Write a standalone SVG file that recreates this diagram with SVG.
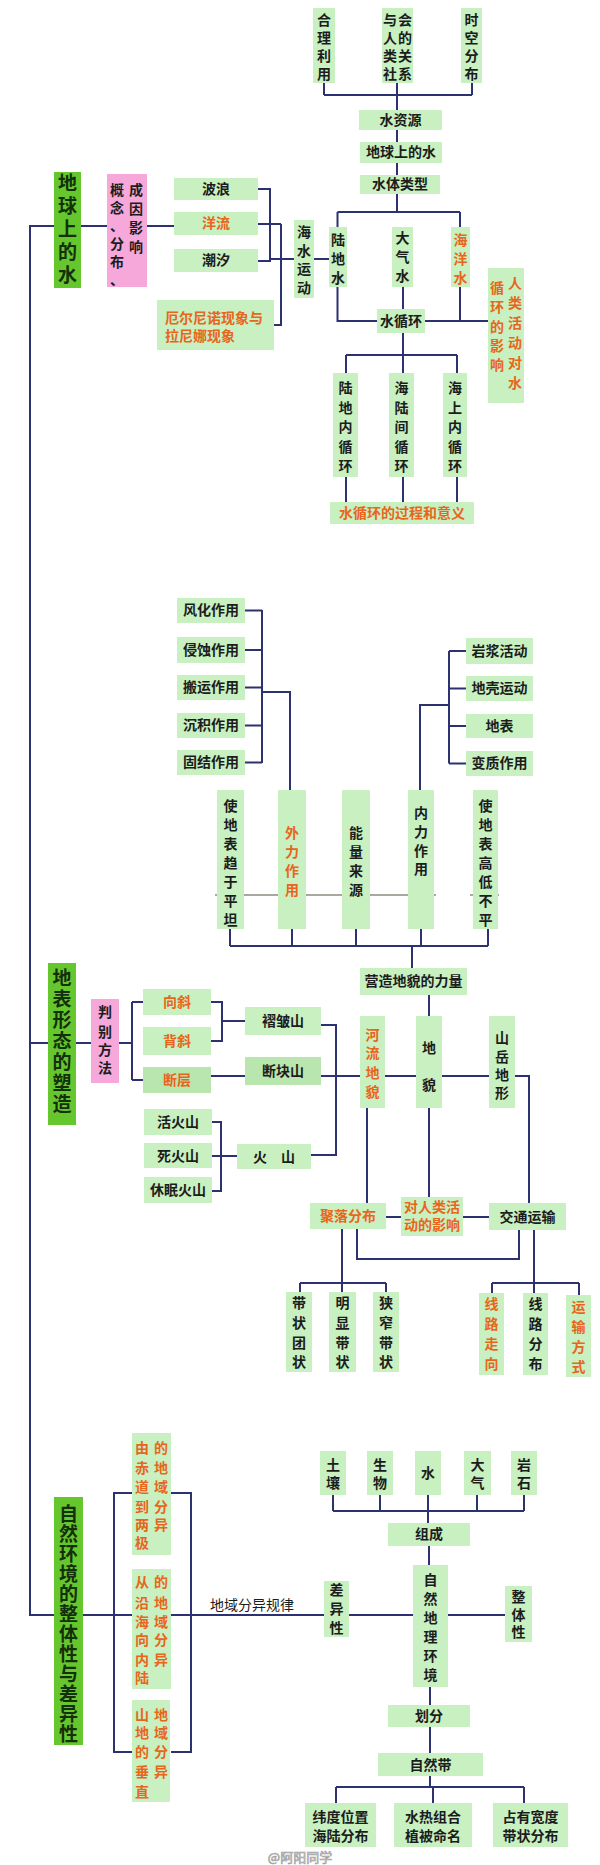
<svg xmlns="http://www.w3.org/2000/svg" width="600" height="1865" viewBox="0 0 600 1865">
<style>
.b{fill:#c8f0c0}
.d{fill:#b9e5ae}
.p{fill:#f5a8d9}
.g{fill:#66c62e}
.t{font-family:"Noto Sans CJK SC","Noto Sans",sans-serif;font-size:14px;font-weight:700;fill:#1c1c1c;text-anchor:middle}
.o{fill:#e8651c}
.T{font-size:19px;fill:#13300a;writing-mode:vertical-rl;text-anchor:middle}
.l{text-anchor:start}
.c{stroke:#2c3170;stroke-width:2;fill:none}
</style>
<rect width="600" height="1865" fill="#ffffff"/>
<g id="connectors" class="c">
<path d="M324 83V95M397 83V110M472 83V95M324 95H472M397 130V142M397 163V175M397 194V212M337.5 212H460M337.5 212V227M460 212V227"/>
<path d="M337.5 287V321H377M403 287V309M460 287V321M425 321H488M403 333V355M346 355H457M346 355V373M403 355V373M457 355V373M346 477V502M403 477V502M457 477V502"/>
<path d="M54 226H30V1615H54M81 226H107M147 226H174M258 189H270V261H258M258 224H281M274 325H281V224M270 259H294M314 259H329"/>
<path d="M245 610.5H262M245 650H262M245 687.5H262M245 725.5H262M245 762.5H262M262 610V763M262 692H290V790"/>
<path d="M466 651H449M466 688.5H449M466 726H449M466 763.5H449M449 651V763.5M449 705H420V790"/>
<path d="M230 929V946M292 929V946M356 929V946M421 929V946M488 929V946M230 946H488M412 946V968M429 995V1016"/>
<path d="M30 1043H48M76 1043H91M119 1043H132M132 1002V1080M132 1002H143M132 1080H143M211 1002H222V1041H211M222 1021H245M211 1076H245"/>
<path d="M321 1025H336V1155H311M321 1076H360M385 1076H416M442 1076H489M515 1076H529V1203M367 1108V1203M429 1108V1197M386 1217H401M463 1217H489"/>
<path d="M212 1122H221V1191H212M212 1156H237"/>
<path d="M357 1229V1259H519V1230M342 1229V1292M300 1283H386M300 1283V1292M386 1283V1292M534 1230V1293M492 1283H579M492 1283V1293M579 1283V1295"/>
<path d="M333 1495V1511M380 1495V1511M428 1495V1523M477 1495V1511M524 1495V1511M333 1511H524M429 1546V1565"/>
<path d="M83 1615H324M349 1615H413M448 1615H505M132 1493H114V1752H132M171 1493H191V1752H171"/>
<path d="M430 1687V1705M430 1727V1753M430 1776V1787M336 1787H524M336 1787V1803M433 1787V1803M524 1787V1803"/>
</g>
<path d="M215 895H436M470 895H499" stroke="#8c8c80" stroke-width="1.3" fill="none"/>
<g id="n-hlly"><rect class="b" x="313" y="8" width="22" height="75"/><text class="t"><tspan x="324" y="25">合</tspan><tspan x="324" y="43">理</tspan><tspan x="324" y="61">利</tspan><tspan x="324" y="79">用</tspan></text></g>
<g id="n-yrsh"><rect class="b" x="382" y="8" width="31" height="75"/><text class="t"><tspan x="390" y="25">与</tspan><tspan x="390" y="43">人</tspan><tspan x="390" y="61">类</tspan><tspan x="390" y="79">社</tspan><tspan x="405" y="25">会</tspan><tspan x="405" y="43">的</tspan><tspan x="405" y="61">关</tspan><tspan x="405" y="79">系</tspan></text></g>
<g id="n-skfb"><rect class="b" x="461" y="8" width="21" height="75"/><text class="t"><tspan x="471.5" y="25">时</tspan><tspan x="471.5" y="43">空</tspan><tspan x="471.5" y="61">分</tspan><tspan x="471.5" y="79">布</tspan></text></g>
<g id="n-szy"><rect class="b" x="359" y="110" width="83" height="20"/><text class="t" x="400.5" y="125">水资源</text></g>
<g id="n-dqsds"><rect class="b" x="360" y="142" width="82" height="21"/><text class="t" x="401" y="157">地球上的水</text></g>
<g id="n-stlx"><rect class="b" x="360" y="175" width="80" height="19"/><text class="t" x="400" y="189">水体类型</text></g>
<g id="n-ldsh"><rect class="b" x="329" y="227" width="18" height="60"/><text class="t"><tspan x="338" y="245">陆</tspan><tspan x="338" y="264">地</tspan><tspan x="338" y="283">水</tspan></text></g>
<g id="n-dqs"><rect class="b" x="392" y="227" width="21" height="60"/><text class="t"><tspan x="402.5" y="243">大</tspan><tspan x="402.5" y="262">气</tspan><tspan x="402.5" y="281">水</tspan></text></g>
<g id="n-hys"><rect class="b" x="451" y="227" width="19" height="60"/><text class="t o"><tspan x="460.5" y="245">海</tspan><tspan x="460.5" y="264">洋</tspan><tspan x="460.5" y="283">水</tspan></text></g>
<g id="n-sxh"><rect class="b" x="377" y="309" width="48" height="24"/><text class="t" x="401" y="326">水循环</text></g>
<g id="n-rlhd"><rect class="b" x="488" y="268" width="36" height="135"/><text class="t o"><tspan x="515" y="288">人</tspan><tspan x="515" y="308">类</tspan><tspan x="515" y="328">活</tspan><tspan x="515" y="348">动</tspan><tspan x="515" y="368">对</tspan><tspan x="515" y="388">水</tspan><tspan x="497" y="293">循</tspan><tspan x="497" y="312">环</tspan><tspan x="497" y="332">的</tspan><tspan x="497" y="351">影</tspan><tspan x="497" y="370">响</tspan></text></g>
<g id="n-ldnxh"><rect class="b" x="333" y="373" width="25" height="104"/><text class="t"><tspan x="345.5" y="393">陆</tspan><tspan x="345.5" y="413">地</tspan><tspan x="345.5" y="432">内</tspan><tspan x="345.5" y="452">循</tspan><tspan x="345.5" y="471">环</tspan></text></g>
<g id="n-hljxh"><rect class="b" x="389" y="373" width="25" height="104"/><text class="t"><tspan x="401.5" y="393">海</tspan><tspan x="401.5" y="413">陆</tspan><tspan x="401.5" y="432">间</tspan><tspan x="401.5" y="452">循</tspan><tspan x="401.5" y="471">环</tspan></text></g>
<g id="n-hsnxh"><rect class="b" x="443" y="373" width="24" height="104"/><text class="t"><tspan x="455" y="393">海</tspan><tspan x="455" y="413">上</tspan><tspan x="455" y="432">内</tspan><tspan x="455" y="452">循</tspan><tspan x="455" y="471">环</tspan></text></g>
<g id="n-sxhgc"><rect class="b" x="330" y="502" width="144" height="22"/><text class="t o" x="402" y="518">水循环的过程和意义</text></g>
<g id="n-bl"><rect class="b" x="174" y="178" width="84" height="22"/><text class="t" x="216" y="194">波浪</text></g>
<g id="n-yl"><rect class="b" x="174" y="212" width="84" height="23"/><text class="t o" x="216" y="228">洋流</text></g>
<g id="n-cx"><rect class="b" x="174" y="249" width="84" height="23"/><text class="t" x="216" y="265">潮汐</text></g>
<g id="n-hsyd"><rect class="b" x="294" y="220" width="20" height="78"/><text class="t"><tspan x="304" y="237">海</tspan><tspan x="304" y="256">水</tspan><tspan x="304" y="274">运</tspan><tspan x="304" y="293">动</tspan></text></g>
<g id="n-enso"><rect class="b" x="157" y="300" width="117" height="50"/><text class="t o l"><tspan x="165" y="323">厄尔尼诺现象与</tspan><tspan x="165" y="341">拉尼娜现象</tspan></text></g>
<g id="n-gn"><rect class="p" x="107" y="174" width="40" height="113"/><text class="t"><tspan x="136" y="195">成</tspan><tspan x="136" y="214">因</tspan><tspan x="136" y="233">影</tspan><tspan x="136" y="252">响</tspan><tspan x="117" y="195">概</tspan><tspan x="117" y="213">念</tspan><tspan x="117" y="231">、</tspan><tspan x="117" y="249">分</tspan><tspan x="117" y="267">布</tspan><tspan x="117" y="285">、</tspan></text></g>
<g id="n-title1"><rect class="g" x="54" y="172" width="27" height="116"/><text class="t T" x="67.5" y="231" style="letter-spacing:4px">地球上的水</text></g>
<g id="n-fh"><rect class="b" x="177" y="598" width="68" height="25"/><text class="t" x="211" y="615">风化作用</text></g>
<g id="n-qs"><rect class="b" x="177" y="637" width="68" height="26"/><text class="t" x="211" y="655">侵蚀作用</text></g>
<g id="n-by"><rect class="b" x="177" y="675" width="68" height="25"/><text class="t" x="211" y="692">搬运作用</text></g>
<g id="n-cj"><rect class="b" x="177" y="713" width="68" height="25"/><text class="t" x="211" y="730">沉积作用</text></g>
<g id="n-gj"><rect class="b" x="177" y="750" width="68" height="25"/><text class="t" x="211" y="767">固结作用</text></g>
<g id="n-yj"><rect class="b" x="466" y="638" width="67" height="26"/><text class="t" x="499.5" y="656">岩浆活动</text></g>
<g id="n-dk"><rect class="b" x="466" y="676" width="67" height="25"/><text class="t" x="499.5" y="693">地壳运动</text></g>
<g id="n-db"><rect class="b" x="466" y="714" width="67" height="24"/><text class="t" x="499.5" y="731">地表</text></g>
<g id="n-bz"><rect class="b" x="466" y="751" width="67" height="25"/><text class="t" x="499.5" y="768">变质作用</text></g>
<g id="n-pt"><rect class="b" x="217" y="790" width="27" height="139"/><text class="t"><tspan x="230.5" y="811">使</tspan><tspan x="230.5" y="830">地</tspan><tspan x="230.5" y="849">表</tspan><tspan x="230.5" y="868">趋</tspan><tspan x="230.5" y="887">于</tspan><tspan x="230.5" y="906">平</tspan><tspan x="230.5" y="925">坦</tspan></text></g>
<g id="n-wl"><rect class="b" x="278" y="790" width="28" height="139"/><text class="t o"><tspan x="292" y="838">外</tspan><tspan x="292" y="857">力</tspan><tspan x="292" y="876">作</tspan><tspan x="292" y="895">用</tspan></text></g>
<g id="n-nl"><rect class="b" x="342" y="790" width="28" height="139"/><text class="t"><tspan x="356" y="838">能</tspan><tspan x="356" y="857">量</tspan><tspan x="356" y="876">来</tspan><tspan x="356" y="895">源</tspan></text></g>
<g id="n-nlzy"><rect class="b" x="408" y="790" width="26" height="139"/><text class="t"><tspan x="421" y="818">内</tspan><tspan x="421" y="837">力</tspan><tspan x="421" y="856">作</tspan><tspan x="421" y="874">用</tspan></text></g>
<g id="n-gd"><rect class="b" x="473" y="790" width="25" height="139"/><text class="t"><tspan x="485.5" y="811">使</tspan><tspan x="485.5" y="830">地</tspan><tspan x="485.5" y="849">表</tspan><tspan x="485.5" y="868">高</tspan><tspan x="485.5" y="887">低</tspan><tspan x="485.5" y="906">不</tspan><tspan x="485.5" y="925">平</tspan></text></g>
<g id="n-yz"><rect class="b" x="360" y="968" width="107" height="27"/><text class="t" x="413.5" y="986">营造地貌的力量</text></g>
<g id="n-xx"><rect class="b" x="143" y="989" width="68" height="26"/><text class="t o" x="177" y="1007">向斜</text></g>
<g id="n-bx"><rect class="b" x="143" y="1027" width="68" height="28"/><text class="t o" x="177" y="1046">背斜</text></g>
<g id="n-dc"><rect class="d" x="143" y="1067" width="68" height="26"/><text class="t o" x="177" y="1085">断层</text></g>
<g id="n-zzs"><rect class="b" x="245" y="1007" width="76" height="28"/><text class="t" x="283" y="1026">褶皱山</text></g>
<g id="n-dks"><rect class="d" x="245" y="1057" width="76" height="28"/><text class="t" x="283" y="1076">断块山</text></g>
<g id="n-hl"><rect class="b" x="360" y="1016" width="25" height="92"/><text class="t o"><tspan x="372.5" y="1040">河</tspan><tspan x="372.5" y="1058">流</tspan><tspan x="372.5" y="1078">地</tspan><tspan x="372.5" y="1097">貌</tspan></text></g>
<g id="n-dm"><rect class="b" x="416" y="1016" width="26" height="92"/><text class="t"><tspan x="429" y="1053">地</tspan><tspan x="429" y="1090">貌</tspan></text></g>
<g id="n-sy"><rect class="b" x="489" y="1016" width="26" height="92"/><text class="t"><tspan x="502" y="1043">山</tspan><tspan x="502" y="1062">岳</tspan><tspan x="502" y="1080">地</tspan><tspan x="502" y="1098">形</tspan></text></g>
<g id="n-pb"><rect class="p" x="91" y="999" width="28" height="84"/><text class="t"><tspan x="105" y="1017">判</tspan><tspan x="105" y="1037">别</tspan><tspan x="105" y="1055">方</tspan><tspan x="105" y="1073">法</tspan></text></g>
<g id="n-title2"><rect class="g" x="48" y="963" width="28" height="162"/><text class="t T" x="62" y="1042" style="letter-spacing:2px">地表形态的塑造</text></g>
<g id="n-hhs"><rect class="b" x="144" y="1109" width="68" height="26"/><text class="t" x="178" y="1127">活火山</text></g>
<g id="n-shs"><rect class="b" x="144" y="1143" width="68" height="25"/><text class="t" x="178" y="1161">死火山</text></g>
<g id="n-xmhs"><rect class="b" x="144" y="1177" width="68" height="26"/><text class="t" x="178" y="1195">休眠火山</text></g>
<g id="n-hs"><rect class="b" x="237" y="1144" width="74" height="25"/><text class="t" x="274" y="1162">火　山</text></g>
<g id="n-jl"><rect class="b" x="310" y="1203" width="76" height="26"/><text class="t o" x="348" y="1221">聚落分布</text></g>
<g id="n-drl"><rect class="b" x="401" y="1197" width="62" height="39"/><text class="t o"><tspan x="432" y="1212">对人类活</tspan><tspan x="432" y="1230">动的影响</tspan></text></g>
<g id="n-jt"><rect class="b" x="489" y="1203" width="77" height="27"/><text class="t" x="527.5" y="1222">交通运输</text></g>
<g id="n-dztz"><rect class="b" x="286" y="1292" width="26" height="80"/><text class="t"><tspan x="299" y="1308">带</tspan><tspan x="299" y="1328">状</tspan><tspan x="299" y="1348">团</tspan><tspan x="299" y="1367">状</tspan></text></g>
<g id="n-mxdz"><rect class="b" x="329" y="1292" width="27" height="80"/><text class="t"><tspan x="342.5" y="1308">明</tspan><tspan x="342.5" y="1328">显</tspan><tspan x="342.5" y="1348">带</tspan><tspan x="342.5" y="1367">状</tspan></text></g>
<g id="n-xzdz"><rect class="b" x="373" y="1292" width="26" height="80"/><text class="t"><tspan x="386" y="1308">狭</tspan><tspan x="386" y="1328">窄</tspan><tspan x="386" y="1348">带</tspan><tspan x="386" y="1367">状</tspan></text></g>
<g id="n-xlzx"><rect class="b" x="479" y="1293" width="25" height="82"/><text class="t o"><tspan x="491.5" y="1309">线</tspan><tspan x="491.5" y="1329">路</tspan><tspan x="491.5" y="1349">走</tspan><tspan x="491.5" y="1369">向</tspan></text></g>
<g id="n-xlfb"><rect class="b" x="523" y="1293" width="25" height="82"/><text class="t"><tspan x="535.5" y="1309">线</tspan><tspan x="535.5" y="1329">路</tspan><tspan x="535.5" y="1349">分</tspan><tspan x="535.5" y="1369">布</tspan></text></g>
<g id="n-ysfs"><rect class="b" x="566" y="1295" width="25" height="82"/><text class="t o"><tspan x="578.5" y="1312">运</tspan><tspan x="578.5" y="1332">输</tspan><tspan x="578.5" y="1352">方</tspan><tspan x="578.5" y="1372">式</tspan></text></g>
<g id="n-tr"><rect class="b" x="320" y="1451" width="26" height="44"/><text class="t"><tspan x="333" y="1470">土</tspan><tspan x="333" y="1488">壤</tspan></text></g>
<g id="n-sw"><rect class="b" x="367" y="1451" width="26" height="44"/><text class="t"><tspan x="380" y="1470">生</tspan><tspan x="380" y="1488">物</tspan></text></g>
<g id="n-s"><rect class="b" x="415" y="1451" width="26" height="44"/><text class="t" x="428" y="1478">水</text></g>
<g id="n-dq"><rect class="b" x="464" y="1451" width="27" height="44"/><text class="t"><tspan x="477.5" y="1470">大</tspan><tspan x="477.5" y="1488">气</tspan></text></g>
<g id="n-ys"><rect class="b" x="511" y="1451" width="26" height="44"/><text class="t"><tspan x="524" y="1470">岩</tspan><tspan x="524" y="1488">石</tspan></text></g>
<g id="n-zc"><rect class="b" x="388" y="1523" width="82" height="23"/><text class="t" x="429" y="1539">组成</text></g>
<g id="n-zrdl"><rect class="b" x="413" y="1565" width="35" height="122"/><text class="t"><tspan x="430.5" y="1585">自</tspan><tspan x="430.5" y="1604">然</tspan><tspan x="430.5" y="1623">地</tspan><tspan x="430.5" y="1642">理</tspan><tspan x="430.5" y="1661">环</tspan><tspan x="430.5" y="1680">境</tspan></text></g>
<g id="n-cyx"><rect class="b" x="324" y="1581" width="25" height="56"/><text class="t"><tspan x="336.5" y="1595">差</tspan><tspan x="336.5" y="1614">异</tspan><tspan x="336.5" y="1633">性</tspan></text></g>
<g id="n-ztx"><rect class="b" x="505" y="1586" width="27" height="56"/><text class="t"><tspan x="518.5" y="1602">整</tspan><tspan x="518.5" y="1620">体</tspan><tspan x="518.5" y="1637">性</tspan></text></g>
<g id="n-hf"><rect class="b" x="388" y="1705" width="82" height="22"/><text class="t" x="429" y="1721">划分</text></g>
<g id="n-zrd"><rect class="b" x="378" y="1753" width="105" height="23"/><text class="t" x="430.5" y="1770">自然带</text></g>
<g id="n-wd"><rect class="b" x="305" y="1803" width="71" height="44"/><text class="t"><tspan x="340.5" y="1822">纬度位置</tspan><tspan x="340.5" y="1841">海陆分布</tspan></text></g>
<g id="n-sr"><rect class="b" x="394" y="1803" width="78" height="44"/><text class="t"><tspan x="433" y="1822">水热组合</tspan><tspan x="433" y="1841">植被命名</tspan></text></g>
<g id="n-zy"><rect class="b" x="493" y="1803" width="75" height="44"/><text class="t"><tspan x="530.5" y="1822">占有宽度</tspan><tspan x="530.5" y="1841">带状分布</tspan></text></g>
<g id="n-cd"><rect class="b" x="132" y="1433" width="39" height="122"/><text class="t o"><tspan x="142" y="1453">由</tspan><tspan x="142" y="1473">赤</tspan><tspan x="142" y="1492">道</tspan><tspan x="142" y="1512">到</tspan><tspan x="142" y="1530">两</tspan><tspan x="142" y="1548">极</tspan><tspan x="161" y="1453">的</tspan><tspan x="161" y="1473">地</tspan><tspan x="161" y="1492">域</tspan><tspan x="161" y="1512">分</tspan><tspan x="161" y="1530">异</tspan></text></g>
<g id="n-yh"><rect class="b" x="132" y="1569" width="39" height="120"/><text class="t o"><tspan x="142" y="1587">从</tspan><tspan x="142" y="1608">沿</tspan><tspan x="142" y="1627">海</tspan><tspan x="142" y="1645">向</tspan><tspan x="142" y="1665">内</tspan><tspan x="142" y="1683">陆</tspan><tspan x="161" y="1587">的</tspan><tspan x="161" y="1608">地</tspan><tspan x="161" y="1627">域</tspan><tspan x="161" y="1645">分</tspan><tspan x="161" y="1665">异</tspan></text></g>
<g id="n-sd"><rect class="b" x="132" y="1700" width="38" height="102"/><text class="t o"><tspan x="142" y="1720">山</tspan><tspan x="142" y="1738">地</tspan><tspan x="142" y="1757">的</tspan><tspan x="142" y="1777">垂</tspan><tspan x="142" y="1797">直</tspan><tspan x="161" y="1720">地</tspan><tspan x="161" y="1738">域</tspan><tspan x="161" y="1757">分</tspan><tspan x="161" y="1777">异</tspan></text></g>
<g id="n-title3"><rect class="g" x="54" y="1497" width="29" height="248"/><text class="t T" x="68.5" y="1624" style="letter-spacing:1px">自然环境的整体性与差异性</text></g>
<text class="t" x="252" y="1610" style="font-weight:400">地域分异规律</text>
<text x="300" y="1862" style="font-family:'Noto Sans CJK SC',sans-serif;font-size:13px;fill:#ffffff;stroke:#a0a0a0;stroke-width:0.7;text-anchor:middle">@阿阳同学</text>
</svg>
